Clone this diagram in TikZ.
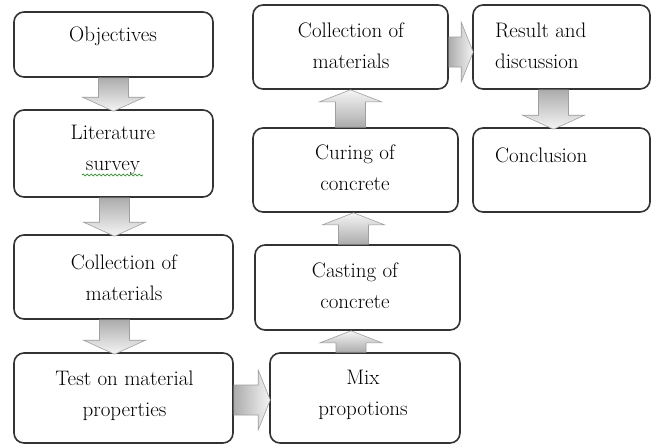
\documentclass[tikz,border=0pt]{standalone}
\usetikzlibrary{calc,decorations.pathmorphing}
\tikzset{
  box/.style={draw=black!80, line width=1.6pt, rounded corners=10pt, fill=white, inner sep=0pt},
  lbl/.style={font=\fontsize{21}{31}\selectfont, align=center, inner sep=0pt},
  lbll/.style={font=\fontsize{21}{31}\selectfont, align=left, inner sep=0pt, anchor=west},
  fat/.style={draw=gray!75, line width=0.6pt},
  squiggle/.style={draw=green!55!black, line width=0.6pt, decorate, decoration={snake, amplitude=1pt, segment length=4pt}}
}
\newcommand\mkbox[5]{\node[box, minimum width={(#4-#2)*1pt}, minimum height={(#5-#3)*1pt}] (#1) at ({(#2+#4)/2},{(#3+#5)/2}) {};}
% down arrow: #1 start (above), #2 target (below)
\newcommand\arrdn[2]{\path[fat, top color=gray!65, bottom color=gray!8] let \p1=#1, \p2=#2 in
  (\x1-15pt,\y1) -- (\x1+15pt,\y1) -- (\x1+15pt,\y2+12pt) -- (\x1+31pt,\y2+12pt) -- (\x1,\y2-2pt)
  -- (\x1-31pt,\y2+12pt) -- (\x1-15pt,\y2+12pt) -- cycle;}
% up arrow: #1 start (below), #2 target (above)
\newcommand\arrup[2]{\path[fat, bottom color=gray!65, top color=gray!8] let \p1=#1, \p2=#2 in
  (\x1-15pt,\y1) -- (\x1+15pt,\y1) -- (\x1+15pt,\y2-12pt) -- (\x1+31pt,\y2-12pt) -- (\x1,\y2)
  -- (\x1-31pt,\y2-12pt) -- (\x1-15pt,\y2-12pt) -- cycle;}
% right arrow: #1 start (left), #2 target (right)
\newcommand\arrrt[2]{\path[fat, left color=gray!65, right color=gray!8] let \p1=#1, \p2=#2 in
  (\x1,\y1+15pt) -- (\x1,\y1-15pt) -- (\x2-11pt,\y1-15pt) -- (\x2-11pt,\y1-30pt) -- (\x2+1pt,\y1)
  -- (\x2-11pt,\y1+30pt) -- (\x2-11pt,\y1+15pt) -- cycle;}
\begin{document}
\begin{tikzpicture}[x=1pt,y=-1pt]
\useasboundingbox[fill=white] (0,0) rectangle (652,445);
% boxes
\mkbox{obj}{14}{12}{213}{77}
\mkbox{lit}{14}{110}{213}{197}
\mkbox{colA}{14}{235}{233}{319}
\mkbox{test}{14}{353}{233}{443}
\mkbox{colB}{253}{5}{448}{89}
\mkbox{cur}{253}{128}{458}{212}
\mkbox{cast}{255}{245}{460}{330}
\mkbox{mix}{270}{353}{460}{443}
\mkbox{res}{473}{5}{650}{89}
\mkbox{con}{473}{128}{650}{212}
% texts
\node[lbl] (objt) at (113,36) {Objectives};
\node[lbl] (litt) at (113,150) {Literature\\survey};
\node[lbl] (colAt) at (124,278) {Collection of\\materials};
\node[lbl] (testt) at (124.5,396) {Test on material\\properties};
\node[lbl] (colBt) at (351,46) {Collection of\\materials};
\node[lbl] (curt) at (355,168) {Curing of\\concrete};
\node[lbl] (castt) at (355,286) {Casting of\\concrete};
\node[lbl] (mixt) at (363,395) {Mix\\propotions};
\node[lbll] (rest) at (495,46) {Result and\\discussion};
\node[lbll] (cont) at (495,155) {Conclusion};
\draw[squiggle] (82,175) -- (143,175);
% arrows
\arrdn{(obj.south)}{(lit.north)}
\arrdn{([xshift=1pt]lit.south)}{(colA.north)}
\arrdn{([xshift=-9pt]colA.south)}{(test.north)}
\arrrt{([yshift=-2pt]test.east)}{(mix.west)}
\arrup{([xshift=-14pt]mix.north)}{(cast.south)}
\arrup{([xshift=-4pt]cast.north)}{(cur.south)}
\arrup{([xshift=-5pt]cur.north)}{(colB.south)}
\arrrt{([yshift=-5pt]colB.east)}{(res.west)}
\arrdn{([xshift=-8pt]res.south)}{(con.north)}
\end{tikzpicture}
\end{document}
